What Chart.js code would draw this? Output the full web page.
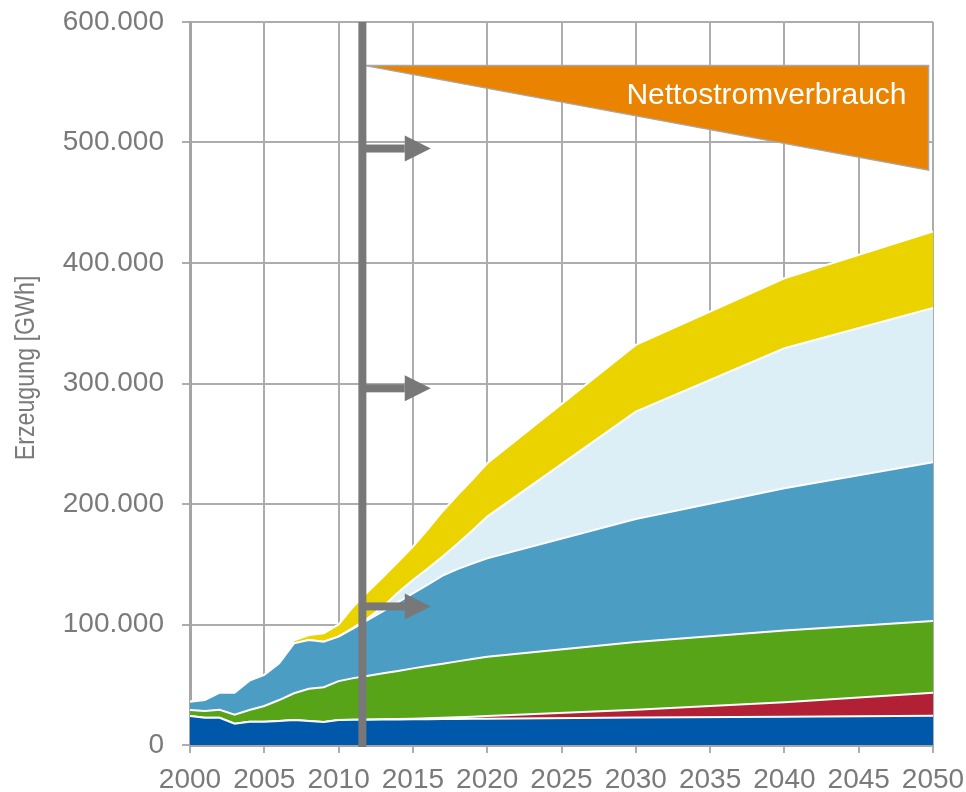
<!DOCTYPE html>
<html lang="de">
<head>
    <meta charset="UTF-8">
    <title>Stromerzeugung aus erneuerbaren Energien</title>
    <script src="https://cdn.jsdelivr.net/npm/chart.js@4.4.1/dist/chart.umd.min.js"></script>
    <style>
        html, body { margin: 0; padding: 0; background: #fff; }
        #chart { display: block; }
    </style>
</head>
<body>
    <canvas id="chart" width="966" height="792"></canvas>

    <script>
        // Jahre (Ist-Werte bis 2011, danach Szenario)
        const jahre = [2000, 2001, 2002, 2003, 2004, 2005, 2006, 2007, 2008, 2009, 2010,
                       2011, 2012, 2013, 2014, 2015, 2016, 2017, 2018, 2019, 2020,
                       2030, 2040, 2050];

        // Erzeugung in GWh
        const wasserkraft  = [24000, 22600, 22600, 17700, 19300, 19300, 19900, 20700, 19900, 19000, 20700,
                              21000, 21000, 21100, 21200, 21300, 21400, 21500, 21600, 21700, 21800,
                              22800, 23500, 24200];
        const geothermie   = [0, 0, 0, 0, 0, 0, 0, 0, 0, 0, 0,
                              0, 100, 200, 300, 500, 800, 1100, 1400, 1800, 2200,
                              6500, 12000, 19200];
        const biomasse     = [5000, 5600, 6700, 7500, 9700, 13100, 17400, 22200, 26800, 28900, 32300,
                              34500, 36400, 38200, 40000, 41800, 43300, 44900, 46400, 47800, 49300,
                              56200, 59500, 59600];
        const windLand     = [6900, 9100, 14100, 18200, 24400, 25700, 30500, 41500, 40400, 37800, 36900,
                              41300, 46500, 51500, 57000, 62300, 67500, 73000, 76600, 79200, 81600,
                              102000, 118000, 131600];
        const windSee      = [0, 0, 0, 0, 0, 0, 0, 0, 0, 0, 200,
                              600, 1500, 4000, 8000, 11000, 13500, 16000, 21000, 27500, 34600,
                              89100, 116200, 128000];
        const photovoltaik = [0, 0, 0, 0, 0, 0, 0, 2500, 4200, 7000, 10000,
                              17600, 22000, 24500, 25500, 27700, 32500, 37500, 40500, 42200, 44300,
                              55400, 58100, 63600];

        // Nettostromverbrauch (Start- und Endwert des Szenarios)
        const verbrauchJahre = [2011.7, 2049.7];
        const nettostromverbrauch = [564000, 477000];

        // Markierung "heute" mit Pfeilen
        const markerJahr = 2011.6;
        const pfeilWerte = [495000, 296000, 115000];
        const pfeilBisJahr = 2016.2;

        const punkte = (werte) => jahre.map((j, i) => ({ x: j, y: werte[i] }));

        const schrift = '"Liberation Sans", Arial, sans-serif';
        Chart.defaults.font.family = schrift;

        const flaeche = (label, werte, farbe, fill) => ({
            label: label,
            data: punkte(werte),
            backgroundColor: farbe,
            borderColor: '#ffffff',
            borderWidth: 2,
            pointRadius: 0,
            tension: 0,
            fill: fill
        });

        const verbrauchForm = [
            { x: verbrauchJahre[0], y: nettostromverbrauch[0] },
            { x: verbrauchJahre[1], y: nettostromverbrauch[0] },
            { x: verbrauchJahre[1], y: nettostromverbrauch[1] },
            { x: verbrauchJahre[0], y: nettostromverbrauch[0] }
        ];

        const markerPlugin = {
            id: 'marker',
            afterDatasetsDraw(chart) {
                const { ctx, chartArea, scales: { x, y } } = chart;
                const lx = x.getPixelForValue(markerJahr);
                const spitze = x.getPixelForValue(pfeilBisJahr);
                ctx.save();
                ctx.fillStyle = '#787878';
                ctx.fillRect(lx - 4, chartArea.top, 8, chartArea.bottom - chartArea.top + 2);
                pfeilWerte.forEach(v => {
                    const py = y.getPixelForValue(v);
                    ctx.fillRect(lx, py - 4, spitze - 26 - lx, 8);
                    ctx.beginPath();
                    ctx.moveTo(spitze - 26, py - 13);
                    ctx.lineTo(spitze, py);
                    ctx.lineTo(spitze - 26, py + 13);
                    ctx.closePath();
                    ctx.fill();
                });

                // Beschriftung im Verbrauchsdreieck
                ctx.fillStyle = '#ffffff';
                ctx.font = '30px ' + schrift;
                ctx.textAlign = 'right';
                ctx.textBaseline = 'alphabetic';
                ctx.fillText('Nettostromverbrauch',
                    x.getPixelForValue(verbrauchJahre[1]) - 22,
                    y.getPixelForValue(nettostromverbrauch[0]) + 39);

                // Achsentitel (schmal)
                ctx.fillStyle = '#7a7a7a';
                ctx.font = '28px ' + schrift;
                ctx.textAlign = 'center';
                ctx.translate(34, 368);
                ctx.rotate(-Math.PI / 2);
                ctx.scale(0.83, 1);
                ctx.fillText('Erzeugung [GWh]', 0, 0);
                ctx.restore();
            }
        };

        const tausender = (v) => String(v).replace(/\B(?=(\d{3})+(?!\d))/g, '.');

        const ohneRand = (s) => {
            s.paddingTop = 0;
            s.paddingBottom = 0;
            s.paddingLeft = 0;
            s.paddingRight = 0;
        };

        new Chart(document.getElementById('chart'), {
            type: 'line',
            data: {
                datasets: [
                    flaeche('Wasserkraft', wasserkraft, '#0058aa', 'origin'),
                    flaeche('Geothermie', geothermie, '#b22036', '-1'),
                    flaeche('Biomasse', biomasse, '#58a418', '-1'),
                    flaeche('Wind an Land', windLand, '#4b9dc4', '-1'),
                    flaeche('Wind auf See', windSee, '#ddeff6', '-1'),
                    flaeche('Photovoltaik', photovoltaik, '#ebd300', '-1'),
                    {
                        label: 'Nettostromverbrauch',
                        data: verbrauchForm,
                        stack: 'verbrauch',
                        backgroundColor: '#e98300',
                        borderColor: '#a8a8a8',
                        borderWidth: 1.5,
                        pointRadius: 0,
                        tension: 0,
                        fill: 'shape'
                    }
                ]
            },
            options: {
                responsive: false,
                animation: false,
                devicePixelRatio: 1,
                layout: { padding: { left: 0, top: 22, right: 33, bottom: 0 } },
                plugins: {
                    legend: { display: false },
                    tooltip: { enabled: false }
                },
                scales: {
                    x: {
                        type: 'linear',
                        min: 2000,
                        max: 2050,
                        afterFit: (s) => { s.height = 47; ohneRand(s); },
                        ticks: {
                            stepSize: 5,
                            autoSkip: false,
                            maxRotation: 0,
                            padding: 10,
                            color: '#7a7a7a',
                            font: { size: 28 },
                            callback: (v) => String(v)
                        },
                        grid: { color: '#adadad', lineWidth: 2, tickLength: 8 },
                        border: { color: '#a5a5a5', width: 3 }
                    },
                    y: {
                        stacked: true,
                        min: 0,
                        max: 600000,
                        afterFit: (s) => { s.width = 190; ohneRand(s); },
                        ticks: {
                            stepSize: 100000,
                            padding: 18,
                            color: '#7a7a7a',
                            font: { size: 28 },
                            callback: (v) => tausender(v)
                        },
                        grid: { color: '#adadad', lineWidth: 2, tickLength: 8 },
                        border: { color: '#a5a5a5', width: 3 }
                    }
                }
            },
            plugins: [markerPlugin]
        });
    </script>
</body>
</html>
